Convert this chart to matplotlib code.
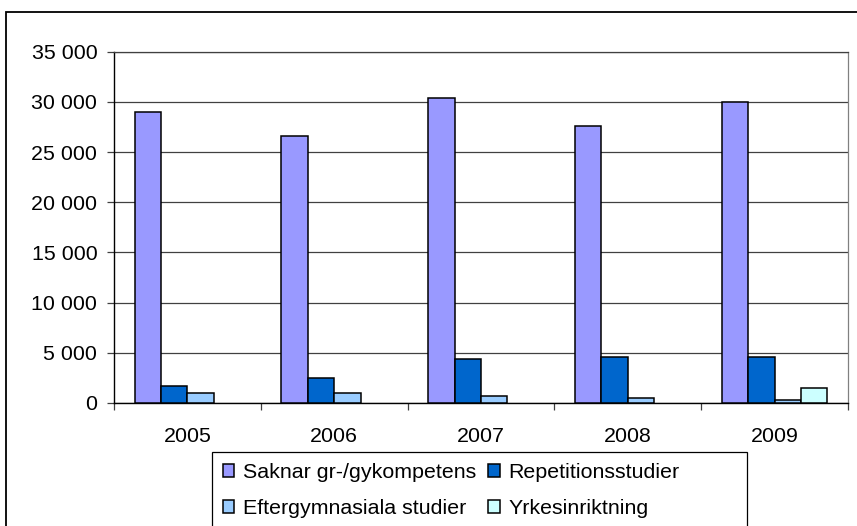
import numpy as np
import matplotlib
matplotlib.use("Agg")
import matplotlib.pyplot as plt
from matplotlib.patches import Rectangle
from matplotlib.ticker import FuncFormatter

# data
years = ["2005", "2006", "2007", "2008", "2009"]
series_names = ["Saknar gr-/gykompetens", "Repetitionsstudier",
                "Eftergymnasiala studier", "Yrkesinriktning"]
saknar = [29000, 26600, 30400, 27600, 30000]
repetition = [1700, 2500, 4350, 4550, 4550]
eftergymn = [1000, 1000, 730, 530, 330]
yrkes = [0, 0, 0, 0, 1520]
colors = ["#9999FF", "#0066CC", "#99CCFF", "#CCFFFF"]

plt.rcParams["font.family"] = ["Liberation Sans", "DejaVu Sans"]
fs = 15.4

W, H = 857, 526
fig = plt.figure(figsize=(W / 100, H / 100), dpi=100)
ax = fig.add_axes([114 / W, 1 - 403 / H, (848 - 114) / W, (403 - 51.7) / H])

x = np.arange(len(years))
bw = 0.18
all_series = [saknar, repetition, eftergymn, yrkes]
handles = []
for i, (vals, c) in enumerate(zip(all_series, colors)):
    vals = np.array(vals, dtype=float)
    # zero values are not drawn in the original
    ax.bar(x + (i - 1.5) * bw, np.where(vals > 0, vals, np.nan), width=bw,
           color=c, edgecolor="black", linewidth=1.1, zorder=3)
    handles.append(Rectangle((0, 0), 1, 1, facecolor=c, edgecolor="black", linewidth=1.1))

ax.set_xlim(-0.5, len(years) - 0.5)
ax.set_ylim(0, 35000)
ax.set_yticks(np.arange(0, 35001, 5000))
ax.yaxis.set_major_formatter(FuncFormatter(lambda v, p: f"{int(v):,}".replace(",", " ")))
ax.grid(axis="y", color="#404040", linewidth=0.9, zorder=0)

# ticks at category borders, labels at centres
ax.set_xticks(np.arange(-0.5, len(years) + 0.5, 1.0))
ax.set_xticklabels([])
ax.set_xticks(x, minor=True)
ax.set_xticklabels(years, minor=True)
ax.tick_params(axis="x", which="major", direction="out", length=5, width=0.9, color="#404040")
ax.tick_params(axis="x", which="minor", length=0, pad=17, labelsize=fs)
ax.tick_params(axis="y", direction="out", length=5, width=0.9, color="#404040", pad=7, labelsize=fs)

for s in ["left", "bottom"]:
    ax.spines[s].set_color("black")
    ax.spines[s].set_linewidth(1.0)
ax.spines["top"].set_color("#404040")
ax.spines["top"].set_linewidth(0.9)
ax.spines["right"].set_color("#808080")
ax.spines["right"].set_linewidth(0.9)

# legend entries row by row: matplotlib fills columns first
order = [0, 2, 1, 3]
leg = fig.legend([handles[i] for i in order], [series_names[i] for i in order],
                 loc="upper left", bbox_to_anchor=(212 / W, 1 - 452 / H), ncol=2,
                 fontsize=fs, frameon=False,
                 handlelength=0.55, handleheight=0.55, handletextpad=0.4,
                 columnspacing=0.55, labelspacing=0.8, borderpad=0.5,
                 borderaxespad=0)

# legend box is wider than its entries in the original
fig.patches.append(Rectangle((212 / W, -0.1), (747 - 212) / W, 0.1 + 1 - 452 / H,
                             transform=fig.transFigure, fill=False,
                             edgecolor="black", linewidth=0.9))

# outer chart frame, cut off at right and bottom like the screenshot
fig.patches.append(Rectangle((6 / W, -0.1), 1.2, 1.1 - 12 / H, transform=fig.transFigure,
                             fill=False, edgecolor="black", linewidth=1.3))

fig.savefig("out.png", dpi=100)
